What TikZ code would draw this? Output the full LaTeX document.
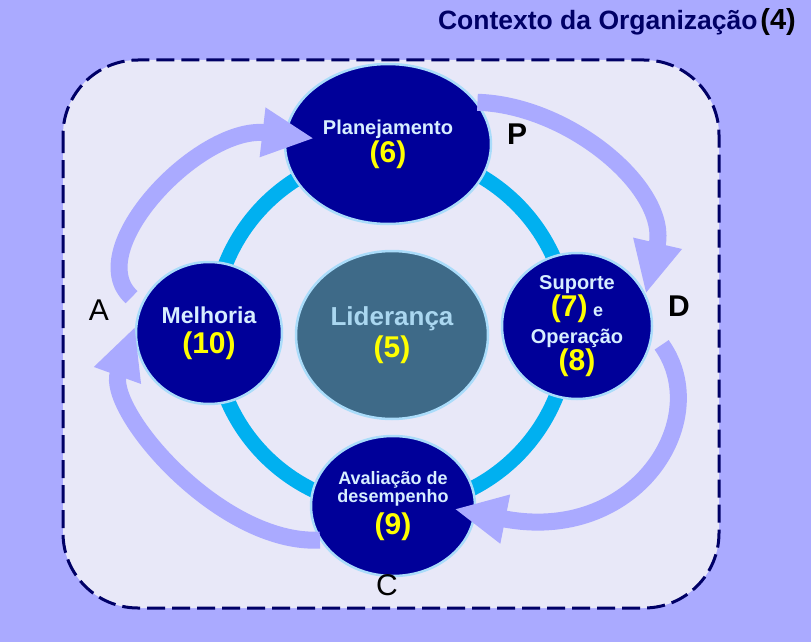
\documentclass[tikz,border=0pt]{standalone}
\usepackage{fontspec}
\setmainfont{Liberation Sans}
\usetikzlibrary{arrows.meta,shapes.geometric}
\definecolor{bgpurple}{RGB}{170,170,255}
\definecolor{panelfill}{RGB}{232,232,248}
\definecolor{navyline}{RGB}{0,0,102}
\definecolor{ringblue}{RGB}{0,176,240}
\definecolor{stepnavy}{RGB}{0,0,153}
\definecolor{rimblue}{RGB}{170,220,250}
\definecolor{leadblue}{RGB}{62,106,136}
\definecolor{labelblue}{RGB}{215,238,255}
\definecolor{leadtext}{RGB}{170,215,240}
\definecolor{numyellow}{RGB}{255,255,0}
\newcommand{\stagenum}[1]{\textcolor{numyellow}{\fontsize{30}{30}\selectfont #1}}
\begin{document}
\begin{tikzpicture}[x=1pt,y=-1pt,
    stage/.style={ellipse,fill=stepnavy,draw=rimblue,line width=2.5pt,inner sep=0pt,
      align=center,text=labelblue,font=\bfseries},
    pdcaarrow/.style={draw=bgpurple,line width=17pt,-{Triangle[width=46pt,length=52pt]}},
    pdcaletter/.style={inner sep=0pt,font=\fontsize{30}{30}\selectfont}]
    \useasboundingbox (0,0) rectangle (811,642);
    \fill[bgpurple] (0,0) rectangle (811,642);
    \draw[fill=panelfill,draw=navyline,line width=3pt,dash pattern=on 18pt off 7pt,
      rounded corners=75pt] (63,60) rectangle (719,608);
    \node[anchor=base east,inner sep=0pt,font=\bfseries] (ctx) at (796,30)
      {\textcolor{navyline}{\fontsize{26.5}{26.5}\selectfont Contexto da Organização} {\fontsize{29}{29}\selectfont (4)}};
    % ring of the cycle
    \coordinate (hub) at (391,330);
    \draw[ringblue,line width=15pt] (hub) circle[radius=178];
    \node[stage,fill=leadblue,text=leadtext,minimum width=192pt,minimum height=168pt,
      font=\bfseries\fontsize{26}{32}\selectfont] (lead) at (392,335) {Liderança\\ \stagenum{(5)}};
    \node[stage,minimum width=206pt,minimum height=160pt,font=\bfseries\fontsize{20}{28}\selectfont]
      (plan) at (388,144) {Planejamento\\ \stagenum{(6)}};
    \node[stage,minimum width=150pt,minimum height=146pt,font=\bfseries\fontsize{20}{27}\selectfont]
      (sup) at (577,326) {Suporte\\ \stagenum{(7)} {\fontsize{18}{18}\selectfont e}\\ Operação\\ \stagenum{(8)}};
    \node[stage,minimum width=164pt,minimum height=140pt,font=\bfseries\fontsize{18}{18}\selectfont]
      (aval) at (393,506) {Avaliação de\\ desempenho\\[5pt] \stagenum{(9)}};
    \node[stage,minimum width=146pt,minimum height=142pt,font=\bfseries\fontsize{23}{30}\selectfont]
      (mel) at (209,333) {Melhoria\\ \stagenum{(10)}};
    % PDCA arrows
    \draw[pdcaarrow] (plan.25) .. controls (570,105) and (670,190) .. (sup.25);
    \draw[pdcaarrow,shorten <=15pt,shorten >=-22pt] (sup.-5) .. controls (715,420) and (635,545) .. (aval.-5);
    \draw[pdcaarrow] (aval.205) .. controls (220,545) and (105,410) .. (mel.175);
    \draw[pdcaarrow,shorten <=12pt,shorten >=-30pt] (mel.158) .. controls (80,250) and (200,125) .. (plan.175);
    \node[pdcaletter,font=\bfseries\fontsize{30}{30}\selectfont] (p) at (517,134) {P};
    \node[pdcaletter,font=\bfseries\fontsize{30}{30}\selectfont] (d) at (679,306) {D};
    \node[pdcaletter] (c) at (387,585) {C};
    \node[pdcaletter] (a) at (99,310) {A};
\end{tikzpicture}
\end{document}
